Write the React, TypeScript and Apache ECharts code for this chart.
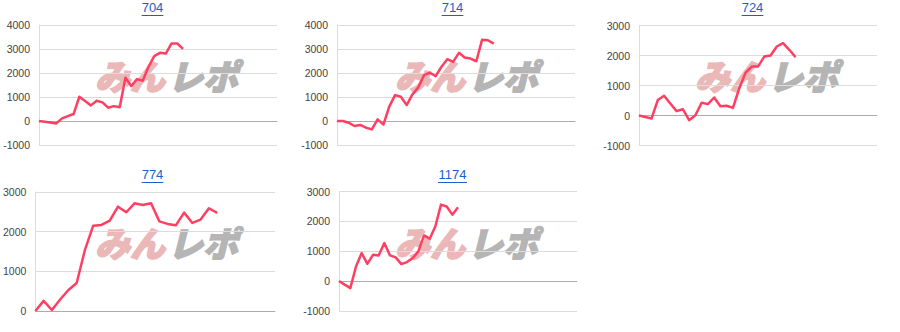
import React, { useEffect, useRef } from "react";
import * as echarts from "echarts";

const titles = ["704", "714", "724", "774", "1174"];

const values704 = [0, -33, -67, -100, 110, 200, 290, 1010, 830, 650, 845, 775, 555, 620, 570, 1800, 1455, 1745, 1675, 2260, 2700, 2840, 2810, 3230, 3230, 3005];
const values714 = [0, 0, -70, -210, -165, -280, -350, 70, -150, 600, 1080, 1010, 665, 1110, 1400, 1910, 2010, 1870, 2260, 2575, 2465, 2840, 2645, 2600, 2490, 3390, 3365, 3225];
const values724 = [0, -50, -100, 515, 660, 400, 145, 210, -155, 10, 425, 380, 600, 310, 325, 255, 900, 1420, 1630, 1630, 1965, 2000, 2300, 2410, 2190, 1945];
const values774 = [0, 255, 25, 290, 530, 705, 1540, 2150, 2170, 2280, 2630, 2490, 2715, 2670, 2715, 2260, 2195, 2160, 2480, 2220, 2305, 2590, 2475];
const values1174 = [0, -115, -235, 490, 940, 580, 880, 860, 1275, 860, 795, 570, 637, 770, 995, 1530, 1420, 1830, 2560, 2500, 2225, 2470];

const seriesValues = [values704, values714, values724, values774, values1174];
const xMax = [41.3, 41, 38, 29, 42];
const yMin = [-1000, -1000, -1000, 0, -1000];
const yMax = [4000, 4000, 3000, 3000, 3000];

const grids = [
  { left: 39, top: 25, width: 238, height: 120 },
  { left: 337, top: 25, width: 238, height: 120 },
  { left: 639, top: 25.5, width: 238, height: 120 },
  { left: 34, top: 192, width: 241, height: 119 },
  { left: 339, top: 191.5, width: 238, height: 119.5 },
];
const panelOrigins = [
  [0, 0],
  [300, 0],
  [600, 0],
  [0, 167],
  [300, 167],
];

const FONT = "Arial, 'Liberation Sans', sans-serif";
const LOGO_FONT = "'Noto Sans CJK JP', 'Noto Sans CJK SC', sans-serif";

export default function App() {
  const ref = useRef<HTMLDivElement>(null);
  useEffect(() => {
    if (!ref.current) return;
    const chart = echarts.init(ref.current, undefined, { renderer: "svg" });
    const graphics: any[] = [];
    panelOrigins.forEach(([ox, oy], i) => {
      const cx = ox + 152.5;
      const w = titles[i].length * 7.23;
      graphics.push({
        type: "line",
        shape: { x1: cx - w / 2, y1: oy + 15.5, x2: cx + w / 2, y2: oy + 15.5 },
        style: { stroke: "#1a5fcc", lineWidth: 1 },
        silent: true,
      });
      graphics.push({
        type: "text",
        x: ox + 95,
        y: oy + 57,
        z: -10,
        silent: true,
        style: {
          text: "みん",
          fontSize: 35,
          fontWeight: 900,
          fontStyle: "italic",
          fontFamily: LOGO_FONT,
          fill: "#ebb8b8",
          stroke: "#ebb8b8",
          lineWidth: 1.5,
        },
      });
      graphics.push({
        type: "text",
        x: ox + 168,
        y: oy + 57,
        z: -10,
        silent: true,
        style: {
          text: "レポ",
          fontSize: 35,
          fontWeight: 900,
          fontStyle: "italic",
          fontFamily: LOGO_FONT,
          fill: "#b5b5b5",
          stroke: "#b5b5b5",
          lineWidth: 1.5,
        },
      });
    });

    chart.setOption({
      animation: false,
      title: panelOrigins.map(([ox, oy], i) => ({
        text: titles[i],
        left: ox + 152.5,
        top: oy + 1,
        textAlign: "center",
        padding: 0,
        textStyle: { fontSize: 13, fontWeight: "normal", color: "#1a5fcc", fontFamily: FONT },
      })),
      grid: grids.map((g) => ({ ...g, containLabel: false })),
      xAxis: grids.map((_, i) => ({
        type: "value",
        gridIndex: i,
        min: 0,
        max: xMax[i],
        axisLabel: { show: false },
        axisTick: { show: false },
        splitLine: { show: false },
        axisLine: { show: true, onZero: true, lineStyle: { color: "#adadad", width: 1 } },
      })),
      yAxis: grids.map((_, i) => ({
        type: "value",
        gridIndex: i,
        min: yMin[i],
        max: yMax[i],
        interval: 1000,
        axisLine: { show: true, lineStyle: { color: "#dcdcdc" } },
        axisTick: { show: false },
        axisLabel: {
          fontSize: 10.5,
          color: "#444",
          fontFamily: FONT,
          margin: 9,
          formatter: (v: number) => String(v),
        },
        splitLine: { show: true, lineStyle: { color: "#dcdcdc", width: 1 } },
      })),
      series: seriesValues.map((vals, i) => ({
        type: "line",
        xAxisIndex: i,
        yAxisIndex: i,
        data: vals.map((v, k) => [k, v]),
        symbol: "none",
        z: 5,
        lineStyle: { color: "#ff3f62", width: 2.5, join: "round" },
      })),
      graphic: graphics,
    });
    return () => chart.dispose();
  }, []);
  return (
    <div
      ref={ref}
      style={{ position: "absolute", left: 0, top: 0, width: 900, height: 332, background: "#fff" }}
    />
  );
}
